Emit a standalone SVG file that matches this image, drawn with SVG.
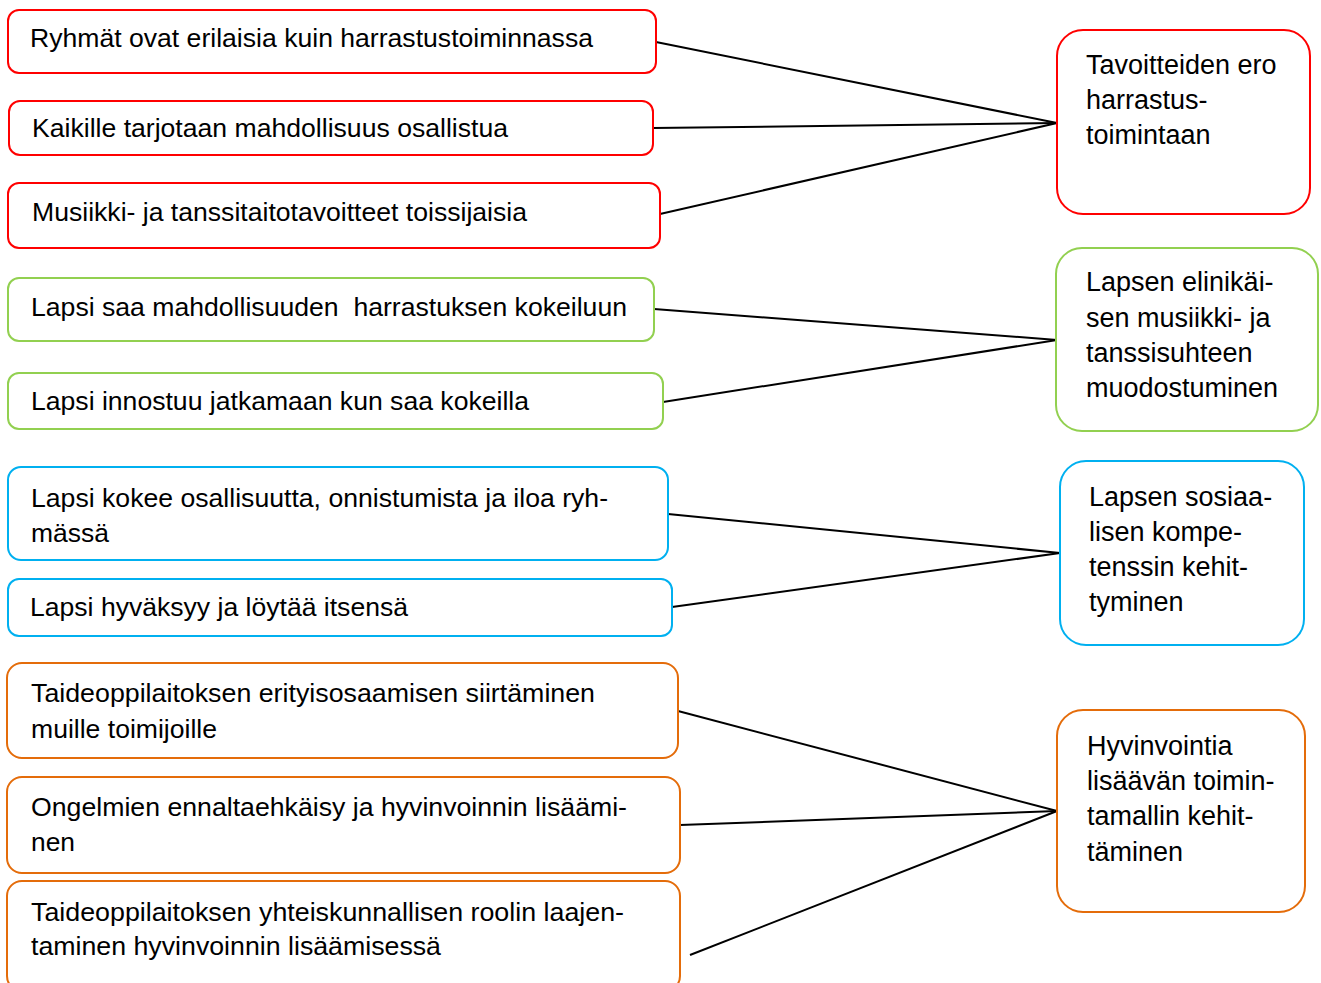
<svg xmlns="http://www.w3.org/2000/svg" width="1321" height="983" viewBox="0 0 1321 983">
  <style>
    .box { fill: #ffffff; stroke-width: 2; }
    .red { stroke: #ff0000; }
    .green { stroke: #92d050; }
    .blue { stroke: #00b0f0; }
    .orange { stroke: #e46c0a; }
    .lt { font-family: "Liberation Sans", Arial, sans-serif; font-size: 26px; fill: #000000; }
    .rt { font-family: "Liberation Sans", Arial, sans-serif; font-size: 27px; fill: #000000; }
    .conn line { stroke: #000000; stroke-width: 2; }
  </style>
  <rect width="1321" height="983" fill="#ffffff"/>

  <!-- connectors -->
  <g id="connectors" class="conn">
    <line x1="656" y1="42" x2="1057" y2="123"/>
    <line x1="653" y1="128" x2="1057" y2="123"/>
    <line x1="660" y1="214" x2="1057" y2="123"/>
    <line x1="654" y1="309" x2="1057" y2="340"/>
    <line x1="663" y1="402" x2="1057" y2="340"/>
    <line x1="668" y1="514" x2="1060" y2="553"/>
    <line x1="672" y1="607" x2="1060" y2="553"/>
    <line x1="678" y1="711" x2="1057" y2="811"/>
    <line x1="680" y1="825" x2="1057" y2="811"/>
    <line x1="690" y1="955" x2="1057" y2="811"/>
  </g>

  <!-- left column: red group -->
  <g id="n1">
    <rect class="box red" x="8" y="10" width="648" height="63" rx="11"/>
    <text class="lt" x="30" y="47" textLength="563" lengthAdjust="spacingAndGlyphs">Ryhmät ovat erilaisia kuin harrastustoiminnassa</text>
  </g>
  <g id="n2">
    <rect class="box red" x="9" y="101" width="644" height="54" rx="11"/>
    <text class="lt" x="32" y="137" textLength="476" lengthAdjust="spacingAndGlyphs">Kaikille tarjotaan mahdollisuus osallistua</text>
  </g>
  <g id="n3">
    <rect class="box red" x="8" y="183" width="652" height="65" rx="11"/>
    <text class="lt" x="32" y="221" textLength="495" lengthAdjust="spacingAndGlyphs">Musiikki- ja tanssitaitotavoitteet toissijaisia</text>
  </g>

  <!-- left column: green group -->
  <g id="n4">
    <rect class="box green" x="8" y="278" width="646" height="63" rx="11"/>
    <text class="lt" x="31" y="316" textLength="596" lengthAdjust="spacingAndGlyphs" xml:space="preserve">Lapsi saa mahdollisuuden  harrastuksen kokeiluun</text>
  </g>
  <g id="n5">
    <rect class="box green" x="8" y="373" width="655" height="56" rx="11"/>
    <text class="lt" x="31" y="410" textLength="498" lengthAdjust="spacingAndGlyphs">Lapsi innostuu jatkamaan kun saa kokeilla</text>
  </g>

  <!-- left column: blue group -->
  <g id="n6">
    <rect class="box blue" x="8" y="467" width="660" height="93" rx="13"/>
    <text class="lt" x="31" y="507" textLength="577" lengthAdjust="spacingAndGlyphs">Lapsi kokee osallisuutta, onnistumista ja iloa ryh-</text>
    <text class="lt" x="31" y="542" textLength="78" lengthAdjust="spacingAndGlyphs">mässä</text>
  </g>
  <g id="n7">
    <rect class="box blue" x="8" y="579" width="664" height="57" rx="11"/>
    <text class="lt" x="30" y="616" textLength="378" lengthAdjust="spacingAndGlyphs">Lapsi hyväksyy ja löytää itsensä</text>
  </g>

  <!-- left column: orange group -->
  <g id="n8">
    <rect class="box orange" x="7" y="663" width="671" height="95" rx="15"/>
    <text class="lt" x="31" y="702" textLength="564" lengthAdjust="spacingAndGlyphs">Taideoppilaitoksen erityisosaamisen siirtäminen</text>
    <text class="lt" x="31" y="738" textLength="186" lengthAdjust="spacingAndGlyphs">muille toimijoille</text>
  </g>
  <g id="n9">
    <rect class="box orange" x="7" y="777" width="673" height="96" rx="15"/>
    <text class="lt" x="31" y="816" textLength="596" lengthAdjust="spacingAndGlyphs">Ongelmien ennaltaehkäisy ja hyvinvoinnin lisäämi-</text>
    <text class="lt" x="31" y="851" textLength="44" lengthAdjust="spacingAndGlyphs">nen</text>
  </g>
  <g id="n10">
    <rect class="box orange" x="7" y="881" width="673" height="110" rx="15"/>
    <text class="lt" x="31" y="921" textLength="593" lengthAdjust="spacingAndGlyphs">Taideoppilaitoksen yhteiskunnallisen roolin laajen-</text>
    <text class="lt" x="31" y="955" textLength="410" lengthAdjust="spacingAndGlyphs">taminen hyvinvoinnin lisäämisessä</text>
  </g>

  <!-- right column: outcomes -->
  <g id="goal1">
    <rect class="box red" x="1057" y="30" width="253" height="184" rx="26"/>
    <text class="rt" x="1086" y="74">Tavoitteiden ero</text>
    <text class="rt" x="1086" y="109">harrastus-</text>
    <text class="rt" x="1086" y="144">toimintaan</text>
  </g>
  <g id="goal2">
    <rect class="box green" x="1056" y="248" width="262" height="183" rx="26"/>
    <text class="rt" x="1086" y="291">Lapsen elinikäi-</text>
    <text class="rt" x="1086" y="327">sen musiikki- ja</text>
    <text class="rt" x="1086" y="362">tanssisuhteen</text>
    <text class="rt" x="1086" y="397">muodostuminen</text>
  </g>
  <g id="goal3">
    <rect class="box blue" x="1060" y="461" width="244" height="184" rx="26"/>
    <text class="rt" x="1089" y="506">Lapsen sosiaa-</text>
    <text class="rt" x="1089" y="541">lisen kompe-</text>
    <text class="rt" x="1089" y="576">tenssin kehit-</text>
    <text class="rt" x="1089" y="611">tyminen</text>
  </g>
  <g id="goal4">
    <rect class="box orange" x="1057" y="710" width="248" height="202" rx="26"/>
    <text class="rt" x="1087" y="755">Hyvinvointia</text>
    <text class="rt" x="1087" y="790">lisäävän toimin-</text>
    <text class="rt" x="1087" y="825">tamallin kehit-</text>
    <text class="rt" x="1087" y="861">täminen</text>
  </g>
</svg>
